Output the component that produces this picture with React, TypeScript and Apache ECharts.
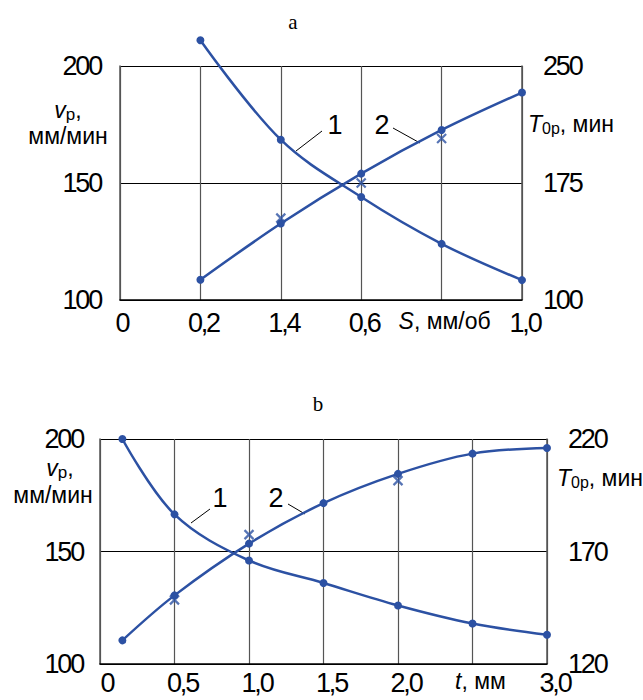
import React, { useEffect, useRef } from 'react';
import * as echarts from 'echarts';

// ---- Data ----
// Chart a: S, мм/об
const xA = [0.2, 0.4, 0.6, 0.8, 1.0];
const vA = [211, 168.5, 144, 124, 108.5];          // curve 1, vр (left axis)
const tA = [113, 149, 181, 209, 233];              // curve 2, T0р (right axis)
const tACrossX = [0.4, 0.6, 0.8];
const tACross = [152.5, 175, 203.5];
const xTicksA = ['0', '0,2', '1,4', '0,6', 'S, мм/об', '1,0'];

// Chart b: t, мм
const xB = [0.15, 0.5, 1.0, 1.5, 2.0, 2.5, 3.0];
const vB = [200, 166.5, 146, 136, 126, 118, 113];
const tB = [130.5, 150.5, 173.5, 191.5, 204.5, 213.5, 216];
const tBCrossX = [0.5, 1.0, 2.0];
const tBCross = [148.5, 177.5, 201.5];
const xTicksB = ['0', '0,5', '1,0', '1,5', '2,0', 't, мм', '3,0'];

const BLUE = '#2c51a3';
const NUM_FONT = "'Liberation Sans', Arial, sans-serif";
const TXT_FONT = "'Liberation Sans', Arial, sans-serif";

const pairs = (xs: number[], ys: number[]) => xs.map((x, i) => [x, ys[i]]);

const xLabelFormatter = (ticks: string[], step: number) => (val: number) => {
  const s = ticks[Math.round(val / step)] ?? '';
  if (/^[A-Za-z]/.test(s)) return `{it|${s[0]}}{n|${s.slice(1)}}`;
  return s;
};

const richX = {
  it: { fontStyle: 'italic', fontFamily: TXT_FONT, fontSize: 23, color: '#000' },
  n: { fontFamily: TXT_FONT, fontSize: 23, color: '#000' },
};

const yAxisBase = (grid: number, pos: 'left' | 'right', min: number, max: number, interval: number, split: boolean, margin: number) => ({
  type: 'value',
  gridIndex: grid,
  position: pos,
  min,
  max,
  interval,
  axisLine: { show: true, lineStyle: { color: '#555', width: 1.5 } },
  axisTick: { show: false },
  splitLine: { show: split, lineStyle: { color: '#000', width: 1 } },
  axisLabel: {
    fontFamily: NUM_FONT,
    fontSize: 27,
    color: '#000',
    margin,
    showMinLabel: true,
    showMaxLabel: true,
  },
});

const xAxisBase = (grid: number, max: number, interval: number, ticks: string[], shift: number, margin: number) => ({
  type: 'value',
  gridIndex: grid,
  min: 0,
  max,
  interval,
  axisLine: { show: true, onZero: false, lineStyle: { color: '#000', width: 1.5 } },
  axisTick: { show: false },
  splitLine: { show: true, lineStyle: { color: '#555', width: 1.2 } },
  axisLabel: {
    fontFamily: NUM_FONT,
    fontSize: 27,
    color: '#000',
    margin,
    padding: [0, 0, 0, shift],
    showMinLabel: true,
    showMaxLabel: true,
    hideOverlap: false,
    formatter: xLabelFormatter(ticks, interval),
    rich: richX,
  },
});

const lineSeries = (xi: number, yi: number, data: number[][]) => ({
  type: 'line',
  xAxisIndex: xi,
  yAxisIndex: yi,
  data,
  smooth: 0.35,
  clip: false,
  symbol: 'circle',
  symbolSize: 8,
  lineStyle: { color: BLUE, width: 2.5 },
  itemStyle: { color: BLUE },
  z: 3,
});

const crossSeries = (xi: number, yi: number, data: number[][]) => ({
  type: 'scatter',
  xAxisIndex: xi,
  yAxisIndex: yi,
  data,
  symbol: 'path://M0 0L10 10M10 0L0 10',
  symbolSize: 9,
  itemStyle: { color: 'transparent', borderColor: BLUE, borderWidth: 2.2 },
  z: 4,
});

const vLabel = (cx: number, y: number) => ({
  type: 'text',
  x: cx,
  y,
  style: {
    text: '{v|v}{s|р}{n|,}',
    align: 'center',
    verticalAlign: 'middle',
    rich: {
      v: { fontFamily: TXT_FONT, fontStyle: 'italic', fontSize: 23, fill: '#000' },
      s: { fontFamily: TXT_FONT, fontSize: 17, fill: '#000', padding: [8, 0, 0, 0] },
      n: { fontFamily: TXT_FONT, fontSize: 23, fill: '#000' },
    },
  },
});

const plainText = (x: number, y: number, text: string, align: string, size = 23, font = TXT_FONT) => ({
  type: 'text',
  x,
  y,
  style: { text, align, verticalAlign: 'middle', fontFamily: font, fontSize: size, fill: '#000' },
});

const tLabel = (x: number, y: number) => ({
  type: 'text',
  x,
  y,
  style: {
    text: '{t|T}{s|0р}{n|, мин}',
    align: 'left',
    verticalAlign: 'middle',
    rich: {
      t: { fontFamily: TXT_FONT, fontStyle: 'italic', fontSize: 23, fill: '#000' },
      s: { fontFamily: TXT_FONT, fontSize: 16, fill: '#000', padding: [9, 0, 0, 0] },
      n: { fontFamily: TXT_FONT, fontSize: 23, fill: '#000' },
    },
  },
});

const leader = (x1: number, y1: number, x2: number, y2: number) => ({
  type: 'line',
  shape: { x1, y1, x2, y2 },
  style: { stroke: '#000', lineWidth: 1 },
});

export default function App() {
  const ref = useRef<HTMLDivElement>(null);
  useEffect(() => {
    const el = ref.current!;
    const chart = echarts.init(el, null, { renderer: 'svg' });
    // tighten the numeric tick labels (the reference uses a condensed face)
    const squeeze = () => {
      el.querySelectorAll('text').forEach((t) => {
        const s = (t.textContent || '').trim();
        if (s.length > 1 && /^[\d,]+$/.test(s)) {
          (t as SVGTextElement).style.letterSpacing = '-2.2px';
        }
      });
    };
    chart.on('finished', squeeze);
    chart.setOption({
      animation: false,
      backgroundColor: '#fff',
      grid: [
        { left: 120, top: 66, width: 402, height: 234 },
        { left: 100, top: 439, width: 447, height: 225 },
      ],
      xAxis: [xAxisBase(0, 1, 0.2, xTicksA, 6, 9), xAxisBase(1, 3, 0.5, xTicksB, 16, 5)],
      yAxis: [
        yAxisBase(0, 'left', 100, 200, 50, true, 19),
        yAxisBase(0, 'right', 100, 250, 75, false, 21),
        yAxisBase(1, 'left', 100, 200, 50, true, 17),
        yAxisBase(1, 'right', 120, 220, 50, false, 21),
      ],
      series: [
        lineSeries(0, 0, pairs(xA, vA)),
        lineSeries(0, 1, pairs(xA, tA)),
        crossSeries(0, 1, pairs(tACrossX, tACross)),
        lineSeries(1, 2, pairs(xB, vB)),
        lineSeries(1, 3, pairs(xB, tB)),
        crossSeries(1, 3, pairs(tBCrossX, tBCross)),
      ],
      graphic: [
        plainText(293, 22, 'a', 'center', 21, "'Liberation Serif', 'DejaVu Serif', serif"),
        plainText(318, 404, 'b', 'center', 21, "'Liberation Serif', 'DejaVu Serif', serif"),
        vLabel(68, 110),
        plainText(68, 136, 'мм/мин', 'center'),
        tLabel(528, 124),
        vLabel(60, 468),
        plainText(53, 495, 'мм/мин', 'center'),
        tLabel(557, 478),
        plainText(335, 125, '1', 'center', 27),
        plainText(382, 125, '2', 'center', 27),
        leader(322, 131, 296, 151),
        leader(393, 128, 420, 143),
        plainText(220, 498, '1', 'center', 27),
        plainText(276, 498, '2', 'center', 27),
        leader(210, 509, 191, 523),
        leader(288, 504, 305, 514),
      ],
    });
    squeeze();
    const timer = window.setTimeout(squeeze, 50);
    return () => {
      window.clearTimeout(timer);
      chart.dispose();
    };
  }, []);
  return (
    <div
      ref={ref}
      style={{ position: 'absolute', left: 0, top: 0, width: 643, height: 700, background: '#fff' }}
    />
  );
}
